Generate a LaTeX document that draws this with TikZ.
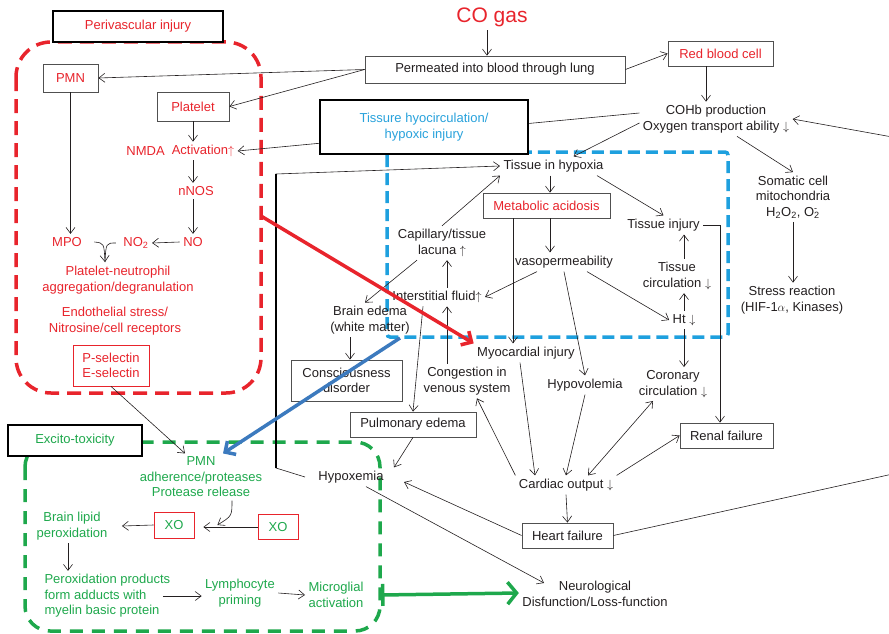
\documentclass[tikz,border=0pt]{standalone}
\usepackage{fontspec}
\setmainfont{Liberation Sans}
\usepackage{tikz}
\usetikzlibrary{arrows.meta,backgrounds,positioning}

\definecolor{txtRed}{RGB}{232,36,44}
\definecolor{txtGreen}{RGB}{30,168,76}
\definecolor{txtBlue}{RGB}{40,162,220}
\definecolor{dashBlue}{RGB}{30,160,222}
\definecolor{arrBlue}{RGB}{60,122,190}
\definecolor{ink}{RGB}{35,31,32}
\definecolor{boxline}{RGB}{80,80,80}

\begin{document}
\begin{tikzpicture}[x=1pt, y=-1pt, font=\fontsize{13}{15.5}\selectfont,
  every node/.style={align=center, text=ink},
  >={Straight Barb[length=6pt,width=9pt]},
  link/.style={->, draw=ink, line width=0.6pt},
  box/.style={draw=boxline, line width=0.8pt, fill=white},
  headbox/.style={draw=black, line width=2.2pt, fill=white},
  redbox/.style={draw=txtRed, line width=0.8pt, fill=white},
  fat/.style={line width=3.5pt, -{Straight Barb[length=8pt,width=16pt]}}]
\useasboundingbox (0,0) rectangle (889,634);

% top
\node (co) [text=txtRed, font=\fontsize{21}{24}\selectfont] at (492,17) {CO gas};
\node (perm) [box, minimum width=260pt, minimum height=27pt] at (495,69.5) {Permeated into blood through lung};
\node (rbc) [box, text=txtRed, minimum width=105pt, minimum height=25pt] at (720.5,53.5) {Red blood cell};
\node (cohb) at (716,119) {COHb production\\Oxygen transport ability $\downarrow$};
\node (soma) at (793,197) {Somatic cell\\mitochondria\\H\textsubscript{2}O\textsubscript{2}, O\rlap{\textsuperscript{-}}\textsubscript{2}};
\node (stress) at (792,300) {Stress reaction\\(HIF-1$\alpha$, Kinases)};

% perivascular injury
\node (peri) [headbox, text=txtRed, minimum width=170pt, minimum height=31pt] at (138,26.5) {Perivascular injury};
\node (pmn) [box, text=txtRed, minimum width=55pt, minimum height=28pt] at (70.5,78) {PMN};
\node (plt) [box, text=txtRed, minimum width=72pt, minimum height=29pt] at (193,106.5) {Platelet};
\node (act) [text=txtRed] at (203,151) {Activation$\uparrow$};
\node (nmda) [text=txtRed, left=0pt of act] {NMDA};
\node (nnos) [text=txtRed] at (196,191) {nNOS};
\node (no) [text=txtRed] at (193,242) {NO};
\node (no2) [text=txtRed] at (136,243) {NO\textsubscript{2}};
\node (mpo) [text=txtRed] at (67,242) {MPO};
\node (agg) [text=txtRed] at (118,280) {Platelet-neutrophil\\aggregation/degranulation};
\node (endo) [text=txtRed] at (115,321) {Endothelial stress/\\Nitrosine/cell receptors};
\node (sel) [redbox, text=txtRed, minimum width=76pt, minimum height=41pt] at (111,365.5) {P-selectin\\E-selectin};

% excito-toxicity
\node (exc) [headbox, text=txtGreen, minimum width=134pt, minimum height=31pt] at (75,440.5) {Excito-toxicity};
\node (pmnadh) [text=txtGreen] at (201,477) {PMN\\adherence/proteases\\Protease release};
\node (xoA) [redbox, text=txtGreen, minimum width=40pt, minimum height=26pt] at (174,525) {XO};
\node (xoB) [redbox, text=txtGreen, minimum width=40pt, minimum height=25pt] at (278,527) {XO};
\node (lipid) [text=txtGreen] at (72,526) {Brain lipid\\peroxidation};
\node (perox) [text=txtGreen, align=left, anchor=west] at (41,596) {Peroxidation products\\form adducts with\\myelin basic protein};
\node (lymph) [text=txtGreen] at (240,593) {Lymphocyte\\priming};
\node (micro) [text=txtGreen] at (336,595) {Microglial\\activation};

% tissue hypocirculation
\node (hyp) [headbox, text=txtBlue, minimum width=208pt, minimum height=54pt] at (424,127) {Tissure hyocirculation/\\hypoxic injury};
\node (tih) at (553.5,166) {Tissue in hypoxia};
\node (meta) [box, text=txtRed, minimum width=127pt, minimum height=25pt] at (546.5,205.5) {Metabolic acidosis};
\node (tinj) at (663.5,225) {Tissue injury};
\node (tcirc) at (677,276) {Tissue\\circulation $\downarrow$};
\node (ht) at (684,320) {Ht $\downarrow$};
\node (vaso) at (564,262) {vasopermeability};
\node (cap) at (442,243) {Capillary/tissue\\lacuna $\uparrow$};
\node (inter) at (437,297) {Interstitial fluid$\uparrow$};
\node (brain) at (370,320) {Brain edema\\(white matter)};
\node (cons) [box, minimum width=111pt, minimum height=41pt] at (346.5,380.5) {Consciousness\\disorder};
\node (cong) at (467,381) {Congestion in\\venous system};
\node (myo) at (526,353) {Myocardial injury};
\node (hypov) at (585,385) {Hypovolemia};
\node (coro) at (673,384) {Coronary\\circulation $\downarrow$};
\node (renal) [box, minimum width=93pt, minimum height=25pt] at (726.5,435.5) {Renal failure};
\node (pulm) [box, minimum width=126pt, minimum height=25pt] at (413,424.5) {Pulmonary edema};
\node (hypox) at (351,477) {Hypoxemia};
\node (cardiac) at (566,485) {Cardiac output $\downarrow$};
\node (heart) [box, minimum width=91pt, minimum height=25pt] at (567.5,535.5) {Heart failure};
\node (neuro) at (595,594) {Neurological\\Disfunction/Loss-function};

\coordinate (loopB) at (920,468);
\coordinate (loopT) at (920,142);
\coordinate (kneeB) at (276,468);
\coordinate (kneeT) at (276,174);
\coordinate (merge) at (105,262);
\coordinate (rEdge) at (261,216);
\coordinate (bCorner) at (400,338);
\coordinate (gEdge) at (381,593);

% connectors
\draw[link] ([xshift=-5pt]co.south) -- ([xshift=-5pt]co.south |- perm.north);
\draw[link] (perm.east) -- (rbc.west);
\draw[link] ([xshift=-14.5pt]rbc.south) -- ([xshift=-14.5pt]rbc.south |- cohb.north);
\draw[link] (perm.west) -- (pmn.east);
\draw[link] (perm.west) -- (plt.east);
\draw[link] ([yshift=-4pt]cohb.west) -- ([xshift=20pt]tih.north);
\draw[link] ([xshift=21pt]cohb.south) -- (soma.north);
\draw[link] (soma.south) -- (soma.south |- stress.north);
\draw[link] (heart.east) -- (loopB) -- (loopT) -- (cohb.east);

\draw[link] ([xshift=-10pt]hypox.west) -- (kneeB) -- (kneeT) -- (tih.west);
\draw[line width=1.6pt] (kneeB) -- (kneeT);
\draw[link] ([xshift=-3.5pt]tih.south) -- ([xshift=-3.5pt]tih.south |- meta.north);
\draw[link] ([xshift=-10pt]tih.south east) -- (tinj.north);
\draw[link] (tinj.east) -| ([xshift=-6.5pt]renal.north);
\draw[link] (tcirc.north -| ht.north) -- (tinj.south -| ht.north);
\draw[link] (ht.north) -- (ht.north |- tcirc.south);
\draw[link] (ht.south) -- (ht.south |- coro.north);
\draw[link] ([xshift=3.5pt]meta.south) -- ([xshift=3.5pt]meta.south |- vaso.north);
\draw[link] ([xshift=-33.5pt]meta.south) -- ([xshift=-33.5pt]meta.south |- myo.north);
\draw[link] ([xshift=-27pt]vaso.south) -- (inter.east);
\draw[link] (vaso.south) -- (hypov.north);
\draw[link] ([xshift=23pt]vaso.south) -- (ht.west);
\draw[link] (cap.north) -- (tih.south west);
\draw[link] ([xshift=-25pt]cap.south) -- ([xshift=-5pt]brain.north);
\draw[link] ([xshift=10pt]inter.north) -- ([xshift=10pt]inter.north |- cap.south);
\draw[link] ([xshift=-20pt]cong.north) -- ([xshift=-20pt]cong.north |- inter.south);
\draw[link] ([xshift=-14pt]inter.south) -- (pulm.north);
\draw[link] ([xshift=-20pt]brain.south) -- ([xshift=-20pt]brain.south |- cons.north);
\draw[link] ([xshift=-6pt]myo.south) -- ([xshift=-31pt]cardiac.north);
\draw[link] (hypov.south) -- (cardiac.north);
\draw[link] (cardiac.north west) -- ([xshift=10pt]cong.south);
\draw[link, <->] ([xshift=22pt]cardiac.north) -- ([xshift=-20pt]coro.south);
\draw[link] (cardiac.north east) -- (renal.west);
\draw[link] (cardiac.south) -- (heart.north);
\draw[link] (heart.west) -- ([shift={(17pt,-5pt)}]hypox.east);
\draw[link] (pulm.south) -- ([xshift=43pt]hypox.north);
\draw[link] ([xshift=15pt]hypox.south) -- ([shift={(-51pt,11pt)}]neuro.center);

% red panel
\draw[link] (plt.south) -- (plt.south |- act.north);
\draw[link] ([xshift=-10pt]act.south) -- ([xshift=-10pt]act.south |- nnos.north);
\draw[link] (no.north |- nnos.south) -- (no.north);
\draw[link] (no.west) -- (no2.east);
\draw[link] (pmn.south) -- (pmn.south |- mpo.north);
\draw[link] ([xshift=9pt]mpo.east) .. controls (104,243) .. (merge);
\draw[draw=ink, line width=0.6pt] ([xshift=-4pt]no2.west) .. controls (106,243) .. (merge);
\draw[link] (sel.south) -- ([xshift=-16pt]pmnadh.north);

% green panel
\draw[link] (xoB.west) -- ([xshift=9pt]xoA.east |- xoB.west);
\draw[link] ([xshift=31pt]pmnadh.south) .. controls (232,516) .. ([xshift=23pt]xoA.east);
\draw[link] (xoA.west) -- ([xshift=11pt]lipid.east);
\draw[link] ([xshift=-4pt]lipid.south) -- ([xshift=-4pt]lipid.south |- perox.north);
\draw[link] ([xshift=-11pt]perox.east) -- (lymph.west |- perox.east);
\draw[link] (lymph.east) -- (micro.west);

% bold arrows
\draw[fat, draw=txtRed] (rEdge) -- (myo.north west);
\draw[fat, draw=arrBlue] (bCorner) -- ([xshift=22pt]pmnadh.north);
\draw[draw=txtGreen, line width=3.5pt, {Bar[width=22pt]}-{Straight Barb[length=9pt,width=22pt]}] (micro.east -| gEdge) -- (neuro.west |- gEdge);

\begin{scope}[on background layer]
\draw[txtRed, line width=3.5pt, dash pattern=on 14pt off 8pt, rounded corners=35pt] (16,42) rectangle (261,393);
\draw[dashBlue, line width=3.5pt, dash pattern=on 12pt off 6pt, rounded corners=3pt] (387,152) rectangle (728,337);
\draw[txtGreen, line width=3.5pt, dash pattern=on 13pt off 9pt, rounded corners=25pt] (25,442) rectangle (380,631);
\draw[link] ([yshift=6pt]cohb.west) -- (act.east);
\end{scope}
\end{tikzpicture}
\end{document}
